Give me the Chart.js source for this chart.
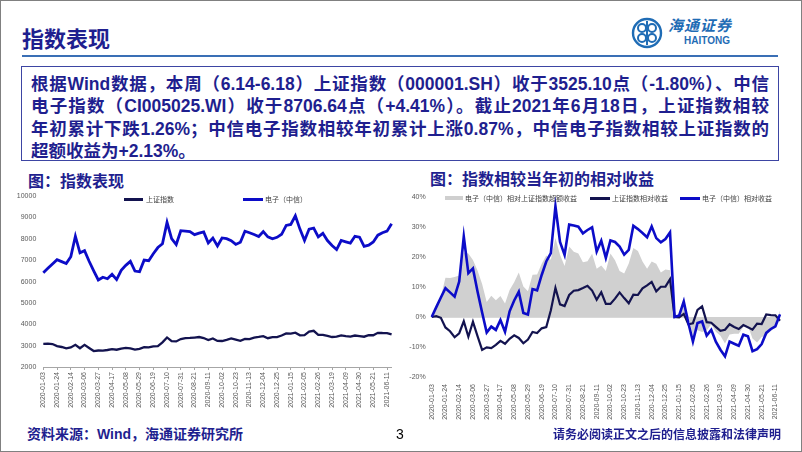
<!DOCTYPE html>
<html lang="zh-CN">
<head>
<meta charset="utf-8">
<title>指数表现</title>
<script src="https://cdn.jsdelivr.net/npm/chart.js@4.4.1/dist/chart.umd.min.js"></script>
<style>
  html, body { margin: 0; padding: 0; background: #fff; }
  #slide { position: relative; width: 802px; height: 452px; overflow: hidden; font-family: "Noto Sans CJK SC", sans-serif; color: #1f1f8f; }
  #frame { position: absolute; left: 0; top: 0; width: 800px; height: 450px; border: 1px solid #808080; }
  .abs { position: absolute; white-space: nowrap; }
  #title { left: 22px; top: 22px; font-size: 22px; font-weight: 700; line-height: 30px; }
  #hline { left: 22px; top: 55px; width: 756px; height: 2px; background: #3a6fb5; }
  #logoText { left: 668px; top: 15px; font-size: 15px; font-weight: 700; font-style: italic; color: #1f6cb5; line-height: 20px; letter-spacing: 1px; }
  #logoEn { left: 684px; top: 35px; font-family: "Liberation Sans", sans-serif; font-size: 10px; font-weight: 700; color: #1f6cb5; line-height: 12px; }
  #box { left: 21px; top: 66px; width: 756px; height: 93px; border: 1.5px solid #3d45a3; }
  .tl { position: absolute; left: 9px; width: 738px; font-family: "Liberation Sans", "Noto Sans CJK SC", sans-serif; font-size: 17.5px; font-weight: 700; line-height: 22.5px; white-space: nowrap; text-align: justify; text-align-last: justify; }
  .sub { font-size: 16px; font-weight: 700; line-height: 20px; }
  .lg { font-size: 7px; color: #404040; line-height: 9px; }
  .sw { position: absolute; }
  #src { left: 27px; top: 424px; font-family: "Liberation Sans", "Noto Sans CJK SC", sans-serif; font-size: 14px; font-weight: 700; line-height: 20px; }
  #page { left: 396px; top: 424px; font-family: "Liberation Sans", sans-serif; font-size: 14px; color: #000; line-height: 20px; }
  #note { left: 553px; top: 426px; font-size: 12px; font-weight: 700; line-height: 16px; }
  canvas { position: absolute; }
</style>
</head>
<body>
<div id="slide">
  <div id="frame"></div>
  <div class="abs" id="title">指数表现</div>
  <div class="abs" id="hline"></div>
  <svg class="abs" style="left:631px;top:17px" width="32" height="32" viewBox="0 0 32 32">
    <circle cx="16" cy="16" r="14" fill="none" stroke="#1f6cb5" stroke-width="2.4"/>
    <circle cx="11" cy="11" r="4" fill="none" stroke="#1f6cb5" stroke-width="2"/>
    <circle cx="21" cy="11" r="4" fill="none" stroke="#1f6cb5" stroke-width="2"/>
    <circle cx="11" cy="21" r="4" fill="none" stroke="#1f6cb5" stroke-width="2"/>
    <circle cx="21" cy="21" r="4" fill="none" stroke="#1f6cb5" stroke-width="2"/>
    <line x1="16" y1="4" x2="16" y2="28" stroke="#1f6cb5" stroke-width="2"/>
  </svg>
  <div class="abs" id="logoText">海通证券</div>
  <div class="abs" id="logoEn">HAITONG</div>

  <div class="abs" id="box">
    <div class="tl" style="top:5.5px">根据Wind数据，本周（6.14-6.18）上证指数（000001.SH）收于3525.10点（-1.80%）、中信</div>
    <div class="tl" style="top:28px">电子指数（CI005025.WI）收于8706.64点（+4.41%）。截止2021年6月18日，上证指数相较</div>
    <div class="tl" style="top:50.5px">年初累计下跌1.26%；中信电子指数相较年初累计上涨0.87%，中信电子指数相较上证指数的</div>
    <div class="tl" style="top:73px;text-align:left;text-align-last:left">超额收益为+2.13%。</div>
  </div>

  <div class="abs sub" style="left:28px;top:170px">图：指数表现</div>
  <div class="abs sub" style="left:430px;top:168px">图：指数相较当年初的相对收益</div>

  <canvas id="left" width="402" height="235" style="left:0;top:185px"></canvas>
  <canvas id="right" width="402" height="240" style="left:400px;top:185px"></canvas>

  <!-- legends -->
  <div class="sw" style="left:124px;top:198px;width:19px;height:2.5px;background:#13134f"></div>
  <div class="abs lg" style="left:146px;top:194.5px">上证指数</div>
  <div class="sw" style="left:243px;top:198px;width:20px;height:2.5px;background:#0c0cc8"></div>
  <div class="abs lg" style="left:265px;top:194.5px">电子（中信）</div>

  <div class="sw" style="left:445px;top:196px;width:18px;height:4px;background:#cfcfcf"></div>
  <div class="abs lg" style="left:465px;top:193.5px">电子（中信）相对上证指数超额收益</div>
  <div class="sw" style="left:590px;top:197px;width:20px;height:2.5px;background:#13134f"></div>
  <div class="abs lg" style="left:612px;top:193.5px">上证指数相对收益</div>
  <div class="sw" style="left:680px;top:197px;width:20px;height:2.5px;background:#0c0cc8"></div>
  <div class="abs lg" style="left:702px;top:193.5px">电子（中信）相对收益</div>

  <div class="abs" id="src">资料来源：Wind，海通证券研究所</div>
  <div class="abs" id="page">3</div>
  <div class="abs" id="note">请务必阅读正文之后的信息披露和法律声明</div>
</div>

<script>
// weekly dates (Friday), 2020-01-03 .. 2021-06-18
const dates = [
  "2020-01-03","2020-01-10","2020-01-17","2020-01-24","2020-01-31","2020-02-07","2020-02-14","2020-02-21","2020-02-28","2020-03-06",
  "2020-03-13","2020-03-20","2020-03-27","2020-04-03","2020-04-10","2020-04-17","2020-04-24","2020-05-01","2020-05-08","2020-05-15",
  "2020-05-22","2020-05-29","2020-06-05","2020-06-12","2020-06-19","2020-06-26","2020-07-03","2020-07-10","2020-07-17","2020-07-24",
  "2020-07-31","2020-08-07","2020-08-14","2020-08-21","2020-08-28","2020-09-04","2020-09-11","2020-09-18","2020-09-25","2020-10-02",
  "2020-10-09","2020-10-16","2020-10-23","2020-10-30","2020-11-06","2020-11-13","2020-11-20","2020-11-27","2020-12-04","2020-12-11",
  "2020-12-18","2020-12-25","2021-01-01","2021-01-08","2021-01-15","2021-01-22","2021-01-29","2021-02-05","2021-02-12","2021-02-19",
  "2021-02-26","2021-03-05","2021-03-12","2021-03-19","2021-03-26","2021-04-02","2021-04-09","2021-04-16","2021-04-23","2021-04-30",
  "2021-05-07","2021-05-14","2021-05-21","2021-05-28","2021-06-04","2021-06-11","2021-06-18"
];

// 上证指数 weekly close
const shIndex = [
  3083.8,3092.3,3075.5,2976.5,2937,2876.0,2917.0,3039.7,2880.3,3034.5,
  2887.4,2745.6,2772.2,2764.0,2796.6,2838.5,2808.5,2860.1,2895.3,2868.5,
  2813.8,2852.4,2930.8,2919.7,2967.6,2979.6,3152.8,3383.3,3214.1,3196.8,
  3310.0,3354.0,3360.1,3380.7,3403.8,3355.4,3260.4,3338.1,3219.4,3218.1,
  3272.1,3336.4,3278.0,3224.5,3312.5,3310.1,3377.7,3408.3,3444.6,3347.2,
  3394.9,3396.6,3473.1,3570.1,3566.4,3606.8,3483.1,3496.3,3655.1,3696.2,
  3509.1,3502.0,3453.1,3404.7,3418.3,3484.4,3450.7,3426.6,3474.2,3446.9,
  3418.9,3490.4,3486.6,3600.8,3591.8,3589.8,3525.1
];

// 电子（中信） weekly close
const elecIndex = [
  6409,6620,6826,7024,6935,6845,7165,8127,7345,7447,
  6954,6505,6076,6204,6133,6345,6095,6531,6761,6947,
  6492,6460,7005,6979,7306,7595,7774,8774,8011,7736,
  8383,8364,8338,8197,8268,8325,7806,8037,7672,8043,
  8011,7915,7742,7845,8357,8287,8203,8114,8345,8095,
  8005,8075,8216,8632,8675,9080,8459,7924,8459,8502,
  8096,8260,7924,7691,7501,7924,7863,7803,8122,8079,
  7647,7708,7855,8174,8286,8364,8707
];

// relative returns vs start of year, %
const shRel = [
  0,0.28,-0.27,-3.48,-4.76,-6.74,-5.41,-1.43,-6.60,-1.60,
  -6.37,-10.97,-10.10,-10.37,-9.31,-7.95,-8.93,-7.25,-6.11,-6.98,
  -8.75,-7.50,-4.96,-5.32,-3.77,-3.38,2.24,9.71,4.22,3.66,
  7.34,8.76,8.96,9.63,10.38,8.81,5.73,8.25,4.40,4.35,
  6.11,8.19,6.30,4.56,7.42,7.34,9.53,10.52,11.70,8.54,
  10.09,10.14,12.62,0,-0.10,1.03,-2.44,-2.07,2.38,3.53,
  -1.71,-1.91,-3.28,-4.63,-4.25,-2.40,-3.34,-4.02,-2.69,-3.45,
  -4.24,-2.23,-2.34,0.86,0.61,0.55,-1.26
];
const elecRel = [
  0,3.3,6.5,9.6,8.2,6.8,11.8,26.8,14.6,16.2,
  8.5,1.5,-5.2,-3.2,-4.3,-1.0,-4.9,1.9,5.5,8.4,
  1.3,0.8,9.3,8.9,14.0,18.5,21.3,36.9,25.0,20.7,
  30.8,30.5,30.1,27.9,29.0,29.9,21.8,25.4,19.7,25.5,
  25.0,23.5,20.8,22.4,30.4,29.3,28.0,26.6,30.2,26.3,
  24.9,26.0,28.2,0,0.5,5.2,-2.0,-8.2,-2.0,-1.5,
  -6.2,-4.3,-8.2,-10.9,-13.1,-8.2,-8.9,-9.6,-5.9,-6.4,
  -11.4,-10.7,-9.0,-5.3,-4.0,-3.1,0.87
];
// 电子（中信）相对上证指数超额收益, %
const excessRel = [
  0,3.02,6.77,13.08,12.96,13.3,13.8,21.5,21.20,19.0,
  15.5,11.0,5.0,7.1,5.6,7.0,4.5,9.0,11.6,14.8,
  10.2,8.6,14.1,14.2,17.77,20.5,19.06,26.3,20.78,17.04,
  23.46,21.74,21.14,18.27,18.62,21.09,16.07,17.15,15.30,21.15,
  18.89,15.31,14.50,17.84,22.98,21.96,18.47,16.08,18.50,17.76,
  14.81,15.86,15.58,0,0.60,4.17,0.44,-6.13,-4.38,-5.03,
  -4.49,-2.39,-4.92,-6.27,-8.85,-5.80,-5.56,-5.58,-3.21,-2.95,
  -7.16,-8.47,-6.66,-6.16,-4.61,-3.65,2.13
];

const leftTicks = [2000, 3000, 4000, 5000, 6000, 7000, 8000, 9000, 10000];
const rightTicks = [-20, -10, 0, 10, 20, 30, 40];

const NAVY = "#13134f";
const BLUE = "#0c0cc8";
const GREY = "#d0d0d0";
const tickFont = { family: "Liberation Sans, Arial, sans-serif", size: 7 };

Chart.defaults.animation = false;
Chart.defaults.devicePixelRatio = 1;

// shared x axis: label every 3rd week, rotated
function dateAxis(height, showTicks) {
  return {
    type: "category",
    offset: false,
    afterFit: (s) => { s.height = height; },
    border: { display: showTicks, color: "#a6a6a6", width: 1 },
    grid: {
      display: showTicks,
      drawOnChartArea: false,
      drawTicks: true,
      tickLength: 3,
      color: (c) => (c.index % 3 === 0 ? "#a6a6a6" : "rgba(0,0,0,0)")
    },
    ticks: {
      autoSkip: false,
      minRotation: 90,
      maxRotation: 90,
      padding: showTicks ? 2 : 4,
      color: "#595959",
      font: tickFont,
      callback: function (v, i) { return i % 3 === 0 ? this.getLabelForValue(v) : ""; }
    }
  };
}

new Chart(document.getElementById("left"), {
  type: "line",
  data: {
    labels: dates,
    datasets: [
      { label: "上证指数", data: shIndex, borderColor: NAVY, borderWidth: 2.3, pointRadius: 0, tension: 0 },
      { label: "电子（中信）", data: elecIndex, borderColor: BLUE, borderWidth: 2.8, pointRadius: 0, tension: 0 }
    ]
  },
  options: {
    responsive: false,
    layout: { padding: { top: 6, right: 5.3, left: 0, bottom: 0 } },
    plugins: { legend: { display: false }, tooltip: { enabled: false } },
    scales: {
      x: dateAxis(53, true),
      y: {
        min: leftTicks[0],
        max: leftTicks[leftTicks.length - 1],
        afterFit: (s) => { s.width = 43.3; },
        afterBuildTicks: (s) => { s.ticks = leftTicks.map((v) => ({ value: v })); },
        border: { display: false },
        grid: { display: false, drawTicks: false },
        ticks: { padding: 7, color: "#595959", font: tickFont, callback: (v) => String(v) }
      }
    }
  }
});

new Chart(document.getElementById("right"), {
  type: "line",
  data: {
    labels: dates,
    datasets: [
      { label: "电子（中信）相对收益", data: elecRel, borderColor: BLUE, borderWidth: 2.6, pointRadius: 0, tension: 0, order: 0 },
      { label: "上证指数相对收益", data: shRel, borderColor: NAVY, borderWidth: 2.2, pointRadius: 0, tension: 0, order: 1 },
      { label: "电子（中信）相对上证指数超额收益", data: excessRel, borderWidth: 0, borderColor: GREY,
        backgroundColor: GREY, fill: "origin", pointRadius: 0, tension: 0, order: 2 }
    ]
  },
  options: {
    responsive: false,
    layout: { padding: { top: 12, right: 22, left: 0, bottom: 0 } },
    plugins: { legend: { display: false }, tooltip: { enabled: false } },
    scales: {
      x: dateAxis(48, false),
      y: {
        min: rightTicks[0],
        max: rightTicks[rightTicks.length - 1],
        afterFit: (s) => { s.width = 31.7; },
        afterBuildTicks: (s) => { s.ticks = rightTicks.map((v) => ({ value: v })); },
        border: { display: false },
        grid: {
          drawTicks: false,
          color: (c) => (c.tick && c.tick.value === 0 ? "#d9d9d9" : "rgba(0,0,0,0)")
        },
        ticks: { padding: 6, color: "#595959", font: tickFont, callback: (v) => v + "%" }
      }
    }
  }
});
</script>
</body>
</html>
